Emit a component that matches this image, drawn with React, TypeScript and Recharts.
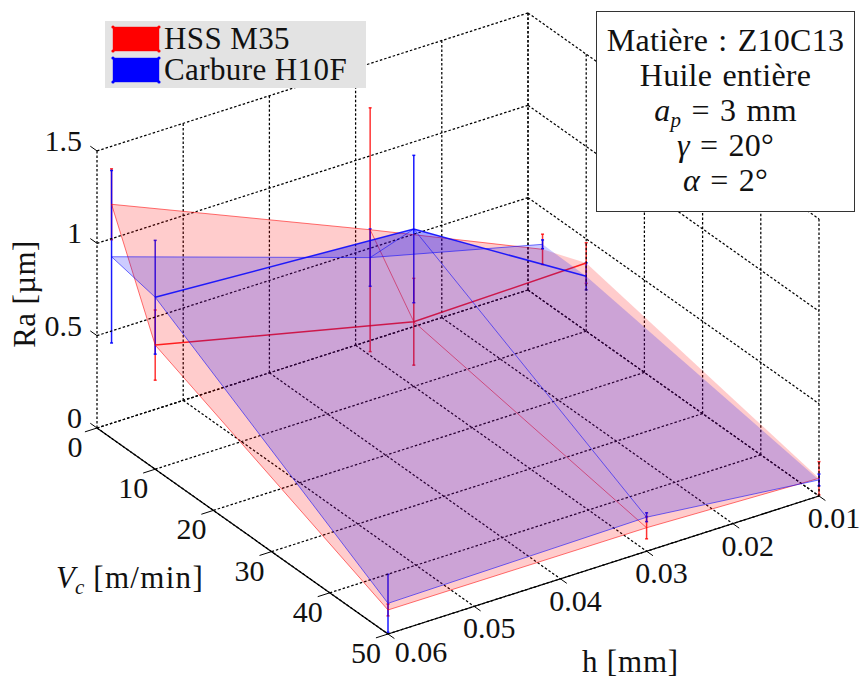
import React from "react";
import { ScatterChart, Scatter, XAxis, YAxis, ErrorBar } from "recharts";

const WIDTH = 861;
const HEIGHT = 680;
const FONT = "'Liberation Serif', serif";

// measured grid
const vcValues = [2.5, 10, 50];
const hValues = [0.06, 0.03, 0.01];

// rows follow hValues, columns follow vcValues
const hssRa = [
  [1.267, 0.672, 0.13],
  [0.681, 0.35, 0.127],
  [0.276, 0.369, 0.096],
];
const hssErr = [
  [0.192, 0.19, 0.032],
  [0.66, 0.235, 0.06],
  [0.082, 0.11, 0.09],
];
const carbRa = [
  [0.983, 0.931, 0.166],
  [0.53, 0.852, 0.184],
  [0.303, 0.297, 0.087],
];
const carbErr = [
  [0.467, 0.308, 0.157],
  [0.155, 0.399, 0.024],
  [0.024, 0.073, 0.032],
];

const vcTicks = [0, 10, 20, 30, 40, 50];
const hTicks = [0.06, 0.05, 0.04, 0.03, 0.02, 0.01];
const raTicks = [0, 0.5, 1, 1.5];
const raTickLabels = ["0", "0.5", "1", "1.5"];
const hTickLabels = ["0.06", "0.05", "0.04", "0.03", "0.02", "0.01"];

const noteLines = ["Matière : Z10C13", "Huile entière"];

// 3D view of the axes box
const RA_SCALE = 184.7;
const project = (vc: number, h: number, ra: number) => ({
  x: 97 + (vc / 50) * 291 + ((0.06 - h) / 0.05) * 431,
  y: 428 + (vc / 50) * 206 - ((0.06 - h) / 0.05) * 138 - ra * RA_SCALE,
});

type Pt = { x: number; y: number; label?: string; err?: number };
const seg = (a: number[], b: number[]): Pt[] => [
  project(a[0], a[1], a[2]),
  project(b[0], b[1], b[2]),
];

const gridLines: Pt[][] = [
  ...vcTicks.map((v) => seg([v, 0.06, 0], [v, 0.01, 0])),
  ...hTicks.map((h) => seg([0, h, 0], [50, h, 0])),
  ...raTicks.map((r) => seg([0, 0.06, r], [0, 0.01, r])),
  ...hTicks.map((h) => seg([0, h, 0], [0, h, 1.5])),
  ...raTicks.map((r) => seg([0, 0.01, r], [50, 0.01, r])),
  ...vcTicks.map((v) => seg([v, 0.01, 0], [v, 0.01, 1.5])),
];

const tickLines: Pt[][] = [
  ...vcTicks.map((v) => seg([v, 0.06, 0], [v, 0.0614, 0])),
  ...hTicks.map((h) => seg([50, h, 0], [51.1, h, 0])),
  ...raTicks.map((r) => seg([0, 0.06, r], [-1.15, 0.06, r])),
];

const axisLines: Pt[][] = [
  seg([0, 0.06, 0], [50, 0.06, 0]),
  seg([50, 0.06, 0], [50, 0.01, 0]),
];

const vcLabels: Pt[] = vcTicks.map((v) => {
  const p = project(v, 0.06, 0);
  return { x: p.x - 22, y: p.y + 29, label: String(v) };
});
const hLabels: Pt[] = hTicks.map((h, i) => {
  const p = project(50, h, 0);
  return i === 0
    ? { x: p.x + 33, y: p.y + 28, label: hTickLabels[i] }
    : { x: p.x + 15, y: p.y + 32, label: hTickLabels[i] };
});
const raLabels: Pt[] = raTicks.map((r, i) => {
  const p = project(0, 0.06, r);
  return { x: p.x - 15, y: p.y, label: raTickLabels[i] };
});

const meshPoint = (ra: number[][], i: number, j: number) =>
  project(vcValues[j], hValues[i], ra[i][j]);

const quads = (ra: number[][]): Pt[][] => {
  const out: Pt[][] = [];
  for (let i = 0; i < hValues.length - 1; i++) {
    for (let j = 0; j < vcValues.length - 1; j++) {
      out.push([
        meshPoint(ra, i, j),
        meshPoint(ra, i, j + 1),
        meshPoint(ra, i + 1, j + 1),
        meshPoint(ra, i + 1, j),
      ]);
    }
  }
  return out;
};

// lines along h for one Vc column
const columnLine = (ra: number[][], j: number): Pt[] =>
  hValues.map((_, i) => meshPoint(ra, i, j));
// lines along Vc for one h row
const rowLine = (ra: number[][], i: number): Pt[] =>
  vcValues.map((_, j) => meshPoint(ra, i, j));

const errorPoints = (ra: number[][], err: number[][]): Pt[] =>
  hValues.flatMap((_, i) =>
    vcValues.map((_v, j) => ({
      ...meshPoint(ra, i, j),
      err: err[i][j] * RA_SCALE,
    }))
  );

const noMark = () => <g />;

const tickText = (anchor: string) => (p: any) => (
  <text
    x={p.cx}
    y={p.cy}
    textAnchor={anchor}
    fontFamily={FONT}
    fontSize={30}
    fill="#111"
  >
    {p.payload.label}
  </text>
);

const plainLine = (pts: Pt[], key: string, line: any) => (
  <Scatter
    key={key}
    data={pts}
    line={line}
    shape={noMark}
    isAnimationActive={false}
  />
);

const surface = (name: string, color: string, ra: number[][]) => [
  ...quads(ra).map((q, k) =>
    plainLine(q, `${name}-q${k}`, {
      fill: color,
      fillOpacity: 0.2,
      stroke: "none",
    })
  ),
  ...vcValues.map((_, j) =>
    plainLine(columnLine(ra, j), `${name}-c${j}`, {
      stroke: color,
      strokeWidth: j === 1 ? 1.5 : 1,
      strokeOpacity: j === 1 ? 0.85 : 0.55,
    })
  ),
  // the h = 0.01 edge has no line in the reference
  ...hValues.slice(0, 2).map((_, i) =>
    plainLine(rowLine(ra, i), `${name}-r${i}`, {
      stroke: color,
      strokeWidth: 1,
      strokeOpacity: 0.55,
    })
  ),
];

const Swatch = ({ color }: { color: string }) => (
  <svg width={50} height={28} style={{ display: "block" }}>
    <rect x={2} y={2} width={46} height={24} fill={color} stroke={color} strokeOpacity={0.4} />
    {[
      [2, 2],
      [48, 2],
      [2, 26],
      [48, 26],
    ].map(([cx, cy]) => (
      <circle key={`${cx}-${cy}`} cx={cx} cy={cy} r={1.6} fill={color} />
    ))}
  </svg>
);

const LegendRow = ({ color, text, top }: { color: string; text: string; top: number }) => (
  <div style={{ position: "absolute", left: 6, top, display: "flex", alignItems: "center" }}>
    <Swatch color={color} />
    <span style={{ marginLeft: 3, fontFamily: FONT, fontSize: 31, letterSpacing: 0.4, color: "#111", lineHeight: "28px", whiteSpace: "nowrap" }}>
      {text}
    </span>
  </div>
);

const Sub = ({ children }: { children: React.ReactNode }) => (
  <i style={{ fontSize: 21, position: "relative", top: 6 }}>{children}</i>
);

const noteRow: React.CSSProperties = { height: 35, lineHeight: "35px", wordSpacing: 2 };

export default function App() {
  return (
    <div style={{ position: "absolute", left: 0, top: 0, width: WIDTH, height: HEIGHT, background: "#fff", overflow: "hidden" }}>
      <ScatterChart width={WIDTH} height={HEIGHT} margin={{ top: 0, right: 0, bottom: 0, left: 0 }}>
        <XAxis type="number" dataKey="x" domain={[0, WIDTH]} hide />
        <YAxis type="number" dataKey="y" domain={[0, HEIGHT]} reversed hide />

        {gridLines.map((pts, k) =>
          plainLine(pts, `grid-${k}`, { stroke: "#000", strokeWidth: 1.25, strokeDasharray: "2.5 2" })
        )}
        {tickLines.map((pts, k) =>
          plainLine(pts, `tick-${k}`, { stroke: "#000", strokeWidth: 1 })
        )}
        {axisLines.map((pts, k) =>
          plainLine(pts, `axis-${k}`, { stroke: "#000", strokeWidth: 1.2 })
        )}

        {surface("hss", "#ff0000", hssRa)}
        {surface("carb", "#0000ff", carbRa)}

        <Scatter data={errorPoints(hssRa, hssErr)} shape={noMark} isAnimationActive={false}>
          <ErrorBar dataKey="err" direction="y" width={1.5} stroke="#ff0000" strokeWidth={1.5} strokeOpacity={0.8} isAnimationActive={false} />
        </Scatter>
        <Scatter data={errorPoints(carbRa, carbErr)} shape={noMark} isAnimationActive={false}>
          <ErrorBar dataKey="err" direction="y" width={1.5} stroke="#0000ff" strokeWidth={1.5} strokeOpacity={0.9} isAnimationActive={false} />
        </Scatter>

        <Scatter data={vcLabels} shape={tickText("middle")} isAnimationActive={false} />
        <Scatter data={hLabels} shape={tickText("middle")} isAnimationActive={false} />
        <Scatter data={raLabels} shape={tickText("end")} isAnimationActive={false} />

        <text x={35} y={294} transform="rotate(-90 35 294)" textAnchor="middle" fontFamily={FONT} fontSize={31} letterSpacing={0.4} fill="#111">
          Ra [µm]
        </text>
        <text x={56} y={588} fontFamily={FONT} fontSize={31} fill="#111">
          <tspan fontStyle="italic">V</tspan>
          <tspan fontStyle="italic" fontSize={21} dy={6}>c</tspan>
          <tspan dy={-6} letterSpacing={1.3}> [m/min]</tspan>
        </text>
        <text x={582} y={672} fontFamily={FONT} fontSize={31} letterSpacing={0.8} fill="#111">
          h [mm]
        </text>
      </ScatterChart>

      {/* legend */}
      <div style={{ position: "absolute", left: 105, top: 21, width: 261, height: 67, background: "#e3e3e3" }}>
        <LegendRow color="#ff0000" text="HSS M35" top={4} />
        <LegendRow color="#0000ff" text="Carbure H10F" top={35} />
      </div>

      {/* conditions */}
      <div
        style={{
          position: "absolute",
          left: 596,
          top: 11,
          width: 257,
          height: 188,
          background: "#fff",
          border: "1px solid #333",
          textAlign: "center",
          fontFamily: FONT,
          fontSize: 32,
          letterSpacing: 0.25,
          color: "#111",
          paddingTop: 11,
          boxSizing: "content-box",
          whiteSpace: "nowrap",
        }}
      >
        <div style={noteRow}>{noteLines[0]}</div>
        <div style={noteRow}>{noteLines[1]}</div>
        <div style={noteRow}><i>a</i><Sub>p</Sub> = 3 mm</div>
        <div style={noteRow}><i>γ</i> = 20°</div>
        <div style={noteRow}><i>α</i> = 2°</div>
      </div>
    </div>
  );
}
